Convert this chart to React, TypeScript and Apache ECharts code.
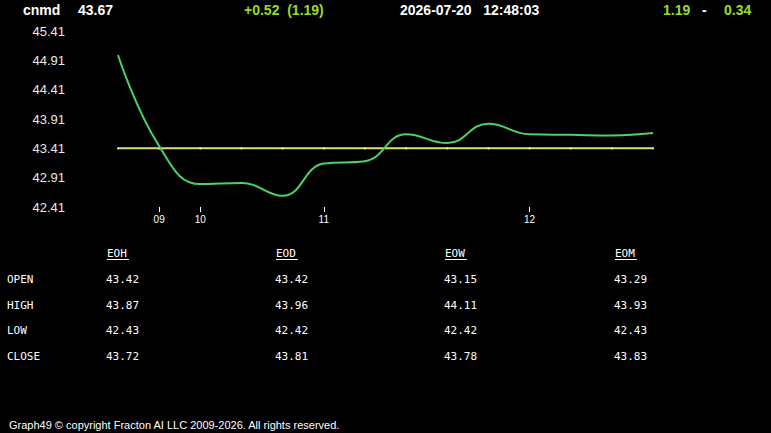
import React, { useEffect, useRef } from "react";
import * as echarts from "echarts";

// ---- Data ----
const SYMBOL = "cnmd";
const LAST_PRICE = "43.67";
const CHANGE_TEXT = "+0.52  (1.19)";
const DATE_TEXT = "2026-07-20   12:48:03";
const RANGE_LEFT = "1.19";
const RANGE_RIGHT = "0.34";

const CATEGORIES = ["", "09", "10", "", "", "11", "", "", "", "", "12", "", "", ""];
const PRICE_VALUES = [45.0, 43.45, 42.8, 42.82, 42.6, 43.15, 43.19, 43.65, 43.5, 43.83, 43.65, 43.64, 43.63, 43.67];
const REFERENCE_VALUES = [43.41, 43.41, 43.41, 43.41, 43.41, 43.41, 43.41, 43.41, 43.41, 43.41, 43.41, 43.41, 43.41, 43.41];
const Y_TICKS = [42.41, 42.91, 43.41, 43.91, 44.41, 44.91, 45.41];

const TABLE_COLUMNS = ["EOH", "EOD", "EOW", "EOM"];
const ROW_LABELS = ["OPEN", "HIGH", "LOW", "CLOSE"];
const EOH_VALUES = ["43.42", "43.87", "42.43", "43.72"];
const EOD_VALUES = ["43.42", "43.96", "42.42", "43.81"];
const EOW_VALUES = ["43.15", "44.11", "42.42", "43.78"];
const EOM_VALUES = ["43.29", "43.93", "42.43", "43.83"];
const TABLE_VALUES = [EOH_VALUES, EOD_VALUES, EOW_VALUES, EOM_VALUES];

const FOOTER = "Graph49 \u00A9 copyright Fracton AI LLC 2009-2026. All rights reserved.";

// ---- Layout / style ----
const GREEN_TEXT = "#99dd22";
const MONO = "'DejaVu Sans Mono', 'Liberation Mono', monospace";
const SANS = "Arial, 'Liberation Sans', sans-serif";
const COL_X = [107, 276, 445, 615];
const ROW_Y = [279, 305, 330, 356];
const HEADER_Y = 253;

export default function App() {
  const ref = useRef<HTMLDivElement>(null);

  useEffect(() => {
    if (!ref.current) return;
    const chart = echarts.init(ref.current, undefined, { renderer: "svg" });

    const graphics: any[] = [];
    const headerText = (x: number, text: string, color: string) => ({
      type: "text",
      x,
      y: 10,
      style: { text, fill: color, font: `bold 14px ${SANS}`, textVerticalAlign: "middle" },
    });
    graphics.push(headerText(23, SYMBOL, "#ffffff"));
    graphics.push(headerText(78, LAST_PRICE, "#ffffff"));
    graphics.push(headerText(244, CHANGE_TEXT, GREEN_TEXT));
    graphics.push(headerText(400, DATE_TEXT, "#ffffff"));
    graphics.push(headerText(663, RANGE_LEFT, GREEN_TEXT));
    graphics.push(headerText(702, "-", "#ffffff"));
    graphics.push(headerText(724, RANGE_RIGHT, GREEN_TEXT));

    TABLE_COLUMNS.forEach((col, ci) => {
      graphics.push({
        type: "text",
        x: COL_X[ci],
        y: HEADER_Y,
        style: { text: col, fill: "#ffffff", font: `11px ${MONO}`, textVerticalAlign: "middle" },
      });
      graphics.push({
        type: "line",
        shape: { x1: COL_X[ci], y1: 259.5, x2: COL_X[ci] + col.length * 6.62 + 2, y2: 259.5 },
        style: { stroke: "#ffffff", lineWidth: 1 },
      });
      TABLE_VALUES[ci].forEach((v, ri) => {
        graphics.push({
          type: "text",
          x: COL_X[ci] - 1,
          y: ROW_Y[ri],
          style: { text: v, fill: "#ffffff", font: `11px ${MONO}`, textVerticalAlign: "middle" },
        });
      });
    });
    ROW_LABELS.forEach((lab, ri) => {
      graphics.push({
        type: "text",
        x: 7,
        y: ROW_Y[ri],
        style: { text: lab, fill: "#ffffff", font: `11px ${MONO}`, textVerticalAlign: "middle" },
      });
    });
    graphics.push({
      type: "text",
      x: 9,
      y: 425,
      style: { text: FOOTER, fill: "#ffffff", font: `11px ${SANS}`, textVerticalAlign: "middle" },
    });

    chart.setOption({
      animation: false,
      backgroundColor: "#000000",
      grid: { left: 118, right: 118, top: 31, bottom: 226 },
      xAxis: {
        type: "category",
        data: CATEGORIES,
        boundaryGap: false,
        axisLine: { show: false },
        axisTick: {
          show: true,
          length: 5,
          interval: (_i: number, v: string) => v !== "",
          lineStyle: { color: "#ffffff", width: 1 },
        },
        axisLabel: {
          interval: 0,
          color: "#ffffff",
          fontSize: 10,
          fontFamily: SANS,
          margin: 7,
        },
        splitLine: { show: false },
      },
      yAxis: {
        type: "value",
        min: 42.41,
        max: 45.41,
        axisLine: { show: false },
        axisTick: { show: false },
        splitLine: { show: false },
        axisLabel: {
          customValues: Y_TICKS,
          formatter: (v: number) => v.toFixed(2),
          color: "#e8e8e8",
          fontSize: 13,
          fontFamily: SANS,
          margin: 53,
        },
      },
      series: [
        {
          type: "line",
          data: REFERENCE_VALUES,
          symbol: "circle",
          symbolSize: 2,
          showSymbol: true,
          itemStyle: { color: "#f4f4c0" },
          lineStyle: { color: "#d8de78", width: 2 },
          silent: true,
          z: 2,
        },
        {
          type: "line",
          data: PRICE_VALUES,
          smooth: 0.45,
          showSymbol: false,
          lineStyle: { color: "#4cd068", width: 2 },
          z: 3,
        },
      ],
      graphic: graphics,
    });

    return () => chart.dispose();
  }, []);

  return (
    <div
      ref={ref}
      style={{ position: "fixed", left: 0, top: 0, width: 771, height: 433, background: "#000" }}
    />
  );
}
